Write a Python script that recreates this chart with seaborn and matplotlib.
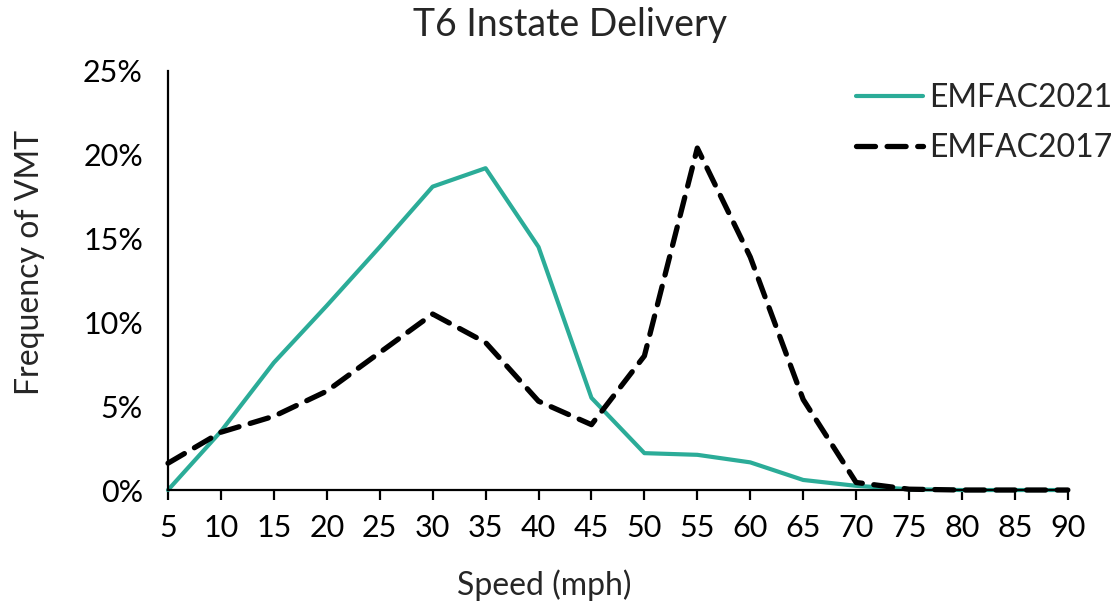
import matplotlib

matplotlib.use("Agg")  # headless
import matplotlib.pyplot as plt
import seaborn as sns
from matplotlib.ticker import PercentFormatter

# speed bins (mph) and share of VMT (%)
speeds = [5, 10, 15, 20, 25, 30, 35, 40, 45, 50, 55, 60, 65, 70, 75, 80, 85, 90]
emfac2021 = [0.0, 3.5, 7.6, 11.0, 14.5, 18.1, 19.2, 14.5, 5.5, 2.2, 2.1, 1.65,
             0.6, 0.25, 0.05, 0.0, 0.0, 0.0]
emfac2017 = [1.6, 3.45, 4.4, 5.9, 8.2, 10.5, 8.8, 5.3, 3.9, 8.0, 20.4, 13.9,
             5.4, 0.45, 0.05, 0.0, 0.0, 0.0]

TEAL = "#2BAC98"

sns.set_style("white")
plt.rcParams["font.family"] = ["Lato", "DejaVu Sans"]

fig = plt.figure(figsize=(11.17, 6.04), dpi=100)
ax = fig.add_axes([0.1504, 0.1887, 0.8056, 0.6938])

sns.lineplot(x=speeds, y=emfac2021, ax=ax, color=TEAL, linewidth=3,
             label="EMFAC2021", clip_on=False)
sns.lineplot(x=speeds, y=emfac2017, ax=ax, color="black", linewidth=3.8,
             linestyle="--", label="EMFAC2017", clip_on=False)
ax.lines[1].set_dashes([3.6, 2.2])
ax.lines[1].set_dash_capstyle("round")

ax.set_xlim(5, 90)
ax.set_ylim(0, 25)
ax.set_xticks(speeds)
ax.set_yticks([0, 5, 10, 15, 20, 25])
ax.yaxis.set_major_formatter(PercentFormatter(decimals=0))

for side in ["top", "right"]:
    ax.spines[side].set_visible(False)
for side in ["left", "bottom"]:
    ax.spines[side].set_color("black")
    ax.spines[side].set_linewidth(1.6)

ax.tick_params(axis="x", direction="out", length=7, width=1.6, colors="black",
               labelsize=22, pad=10, bottom=True)
ax.tick_params(axis="y", length=0, labelsize=22, pad=18, colors="black")

# axis labels placed in figure coords, centred where the reference has them
ax.set_xlabel("Speed (mph)", fontsize=23, va="center")
ax.xaxis.set_label_coords(0.487, 0.031, transform=fig.transFigure)
ax.set_ylabel("Frequency of VMT", fontsize=23, va="center")
ax.yaxis.set_label_coords(0.027, 0.566, transform=fig.transFigure)

fig.text(0.510, 0.958, "T6 Instate Delivery", fontsize=27,
         ha="center", va="center")

leg = ax.legend(loc="upper left", bbox_to_anchor=(0.766, 0.862),
                bbox_transform=fig.transFigure, frameon=False, fontsize=23,
                handlelength=2.1, handletextpad=0.2, labelspacing=0.62,
                borderpad=0, borderaxespad=0)
leg.get_lines()[1].set_dashes([3.6, 2.2])
leg.get_lines()[1].set_dash_capstyle("round")

fig.savefig("out.png", dpi=100)
